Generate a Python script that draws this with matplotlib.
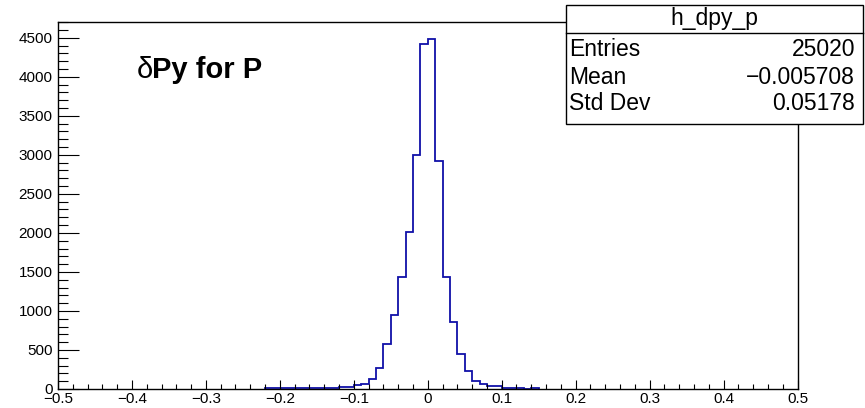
import numpy as np
import matplotlib.pyplot as plt
from matplotlib.ticker import MultipleLocator, FuncFormatter
from matplotlib.patches import Rectangle
from matplotlib.lines import Line2D

plt.rcParams['font.family'] = ['Liberation Sans', 'DejaVu Sans']

# delta Py for protons, 0.01 wide bins from -0.22 to 0.15
bin_lo = -0.22
bin_width = 0.01
counts = [9, 8, 11, 10, 12, 11, 13, 14, 15, 17,
          28, 32, 45, 68, 130, 265, 578, 954, 1429, 2010,
          2998, 4422, 4478, 2926, 1441, 860, 449, 226, 107, 68,
          34, 34, 17, 16, 15, 0, 10]

hist_name = "h_dpy_p"
stat_names = ["Entries", "Mean", "Std Dev"]
stat_values = ["25020", "\u22120.005708", "0.05178"]

edges = bin_lo + bin_width * np.arange(len(counts) + 1)

fig = plt.figure(figsize=(8.65, 4.08), dpi=100)
ax = fig.add_axes([58 / 865, 19 / 408, 739.5 / 865, 367 / 408])

ax.stairs(counts, edges, baseline=0, color='#1010a8', lw=1.3)

ax.set_xlim(-0.5, 0.5)
ax.set_ylim(0, 1.05 * max(counts))

ax.xaxis.set_major_locator(MultipleLocator(0.1))
ax.xaxis.set_minor_locator(MultipleLocator(0.02))
ax.yaxis.set_major_locator(MultipleLocator(500))
ax.yaxis.set_minor_locator(MultipleLocator(100))


def xfmt(v, pos):
    if abs(v) < 1e-9:
        return "0"
    return ("%.1f" % v).replace("-", "\u2212")


ax.xaxis.set_major_formatter(FuncFormatter(xfmt))
ax.yaxis.set_major_formatter(FuncFormatter(lambda v, p: "%d" % round(v)))

ax.tick_params(axis='x', which='major', direction='in', length=6.5, width=0.8,
               labelsize=11, pad=2.5)
ax.tick_params(axis='x', which='minor', direction='in', length=3.6, width=0.8)
ax.tick_params(axis='y', which='major', direction='in', length=15, width=0.8,
               labelsize=11, pad=4)
ax.tick_params(axis='y', which='minor', direction='in', length=7.2, width=0.8)
ax.tick_params(top=False, right=False, which='both')
for sp in ax.spines.values():
    sp.set_linewidth(1.0)

# title inside the frame
fig.text(137 / 865, 1 - 78 / 408, "\u03b4", fontsize=21, ha='left', va='baseline')
fig.text(152 / 865, 1 - 78 / 408, "Py for P", fontsize=21, fontweight='bold',
         ha='left', va='baseline')

# stats box
bx0, bx1 = 566 / 865, 863 / 865
by0, by1 = 1 - 124 / 408, 1 - 5 / 408
fig.add_artist(Rectangle((bx0, by0), bx1 - bx0, by1 - by0, transform=fig.transFigure,
                         facecolor='white', edgecolor='black', lw=1.0, zorder=5))
fig.add_artist(Line2D([bx0, bx1], [1 - 33 / 408] * 2, transform=fig.transFigure,
                      color='black', lw=1.0, zorder=6))
fig.text((bx0 + bx1) / 2, 1 - 19 / 408, hist_name, fontsize=16.5,
         ha='center', va='center', zorder=7)
row_y = [50, 77, 104]
for name, val, yy in zip(stat_names, stat_values, row_y):
    fig.text(569 / 865, 1 - yy / 408, name, fontsize=16.5, ha='left', va='center', zorder=7)
    fig.text(855 / 865, 1 - yy / 408, val, fontsize=16.5, ha='right', va='center', zorder=7)

fig.savefig("out.png", dpi=100)
